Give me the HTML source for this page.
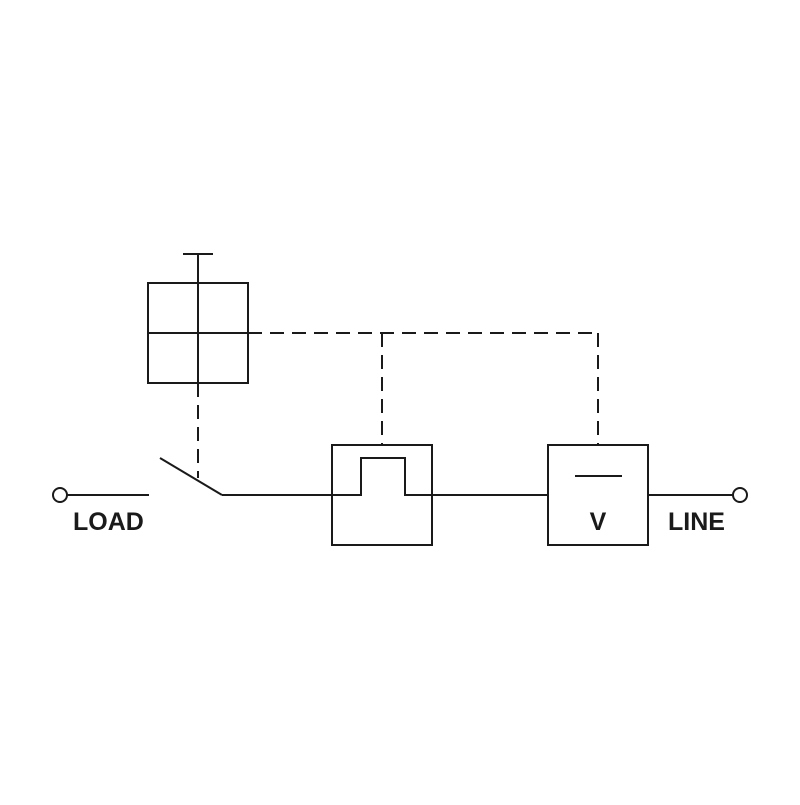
<!DOCTYPE html>
<html><head><style>body{margin:0;background:#fff}</style></head><body>
<svg width="800" height="800" viewBox="0 0 800 800" xmlns="http://www.w3.org/2000/svg">
<g stroke="#1a1a1a" stroke-width="2" fill="none">
<line x1="183" y1="254" x2="213" y2="254"/>
<line x1="198" y1="254" x2="198" y2="383"/>
<rect x="148" y="283" width="100" height="100"/>
<line x1="148" y1="333" x2="248" y2="333"/>
<g stroke-dasharray="14,8">
<line x1="248" y1="333" x2="598" y2="333"/>
<line x1="382" y1="333" x2="382" y2="445"/>
<line x1="598" y1="333" x2="598" y2="445"/>
<line x1="198" y1="383" x2="198" y2="478"/>
</g>
<line x1="160" y1="458" x2="222" y2="495"/>
<line x1="67" y1="495" x2="149" y2="495"/>
<circle cx="60" cy="495" r="7"/>
<polyline points="222,495 361,495 361,458 405,458 405,495 548,495"/>
<rect x="332" y="445" width="100" height="100"/>
<rect x="548" y="445" width="100" height="100"/>
<line x1="575" y1="476" x2="622" y2="476"/>
<line x1="648" y1="495" x2="733" y2="495"/>
<circle cx="740" cy="495" r="7"/>
</g>
<g font-family="Liberation Sans, sans-serif" font-weight="bold" font-size="25" fill="#1a1a1a">
<text x="73" y="530">LOAD</text>
<text x="668" y="530">LINE</text>
<text x="598" y="530" text-anchor="middle">V</text>
</g>
</svg>
</body></html>
